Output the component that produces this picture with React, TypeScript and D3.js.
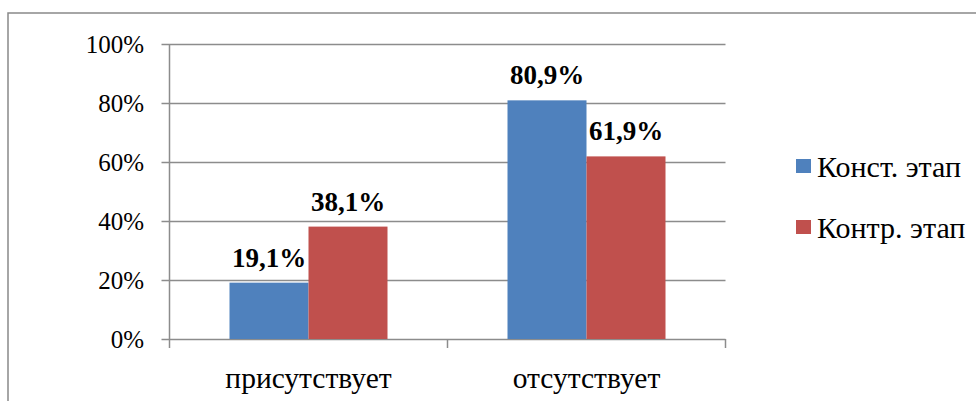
import React from "react";
import * as d3 from "d3";

const categories = ["присутствует", "отсутствует"];
const seriesNames = ["Конст. этап", "Контр. этап"];
const konst = [19.1, 80.9];
const kontr = [38.1, 61.9];
const yTicks = [0, 20, 40, 60, 80, 100];
const colors = ["#4F81BD", "#C0504D"];

export default function App() {
  const W = 976, H = 401;
  const left = 169.5, right = 725.5, top = 44, bottom = 339;
  const x = d3.scaleBand().domain(categories).range([left, right]).paddingInner(0).paddingOuter(0);
  const y = d3.scaleLinear().domain([0, 100]).range([bottom, top]);
  const series = [konst, kontr];
  const bw = 79;
  const font = '"Liberation Serif", "Times New Roman", serif';
  return (
    <svg width={W} height={H} style={{ position: "absolute", left: 0, top: 0 }}>
      <rect x={0} y={0} width={W} height={H} fill="#fff" />
      <rect x={8} y={13} width={W + 10} height={H + 10} fill="none" stroke="#898989" strokeWidth={1.5} />
      {yTicks.map((t) => (
        <g key={t}>
          <line x1={left - 8} x2={right} y1={Math.round(y(t)) + 0.5} y2={Math.round(y(t)) + 0.5} stroke="#8c8c8c" strokeWidth={1.5} />
          <text x={144} y={y(t) + 9} textAnchor="end" style={{ fontFamily: font }} fontSize={25} fill="#000">{t}%</text>
        </g>
      ))}
      <line x1={left} x2={left} y1={top} y2={bottom} stroke="#8c8c8c" strokeWidth={1.5} />
      {[0, 1, 2].map((i) => {
        const xx = left + i * x.bandwidth();
        return <line key={i} x1={xx} x2={xx} y1={bottom} y2={bottom + 9} stroke="#8c8c8c" strokeWidth={1.5} />;
      })}
      {categories.map((c, ci) => {
        const cx = (x(c) as number) + x.bandwidth() / 2;
        return (
          <g key={c}>
            {series.map((s, si) => {
              const bx = cx - bw + si * bw;
              const by = y(s[ci]);
              return (
                <g key={si}>
                  <rect x={bx} y={by} width={bw} height={bottom - by} fill={colors[si]} />
                  <text x={bx + bw / 2} y={by - 16} textAnchor="middle" style={{ fontFamily: font }} fontWeight="bold" fontSize={27} fill="#000">
                    {s[ci].toFixed(1).replace(".", ",")}%
                  </text>
                </g>
              );
            })}
            <text x={cx} y={388} textAnchor="middle" style={{ fontFamily: font }} fontSize={29.5} fill="#000">{c}</text>
          </g>
        );
      })}
      {seriesNames.map((n, i) => (
        <g key={n}>
          <rect x={796} y={159 + i * 61} width={15} height={14} fill={colors[i]} />
          <text x={817} y={177 + i * 61} style={{ fontFamily: font }} fontSize={30} fill="#000">{n}</text>
        </g>
      ))}
    </svg>
  );
}
